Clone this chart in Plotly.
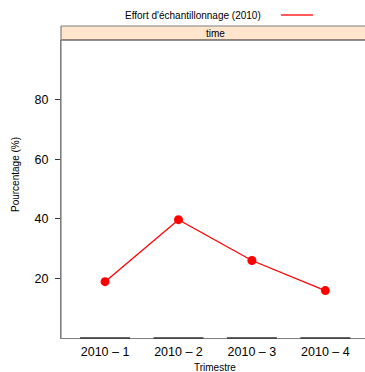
import plotly.graph_objects as go

categories = ["2010 – 1", "2010 – 2", "2010 – 3", "2010 – 4"]
values = [18.9, 39.7, 26.0, 15.9]
y_ticks = [20, 40, 60, 80]
series_name = "Effort d'échantillonnage (2010)"
strip_label = "time"

W, H = 365, 372
L, R, T, B = 61, 0, 40, 34
ph = H - T - B
pw = W - L - R

def px_x(px):
    return (px - L) / pw

def px_y(py):
    return (H - B - py) / ph

FONT = "Liberation Sans, Arial, Helvetica, sans-serif"
xpos = list(range(len(categories)))

fig = go.Figure()
fig.add_trace(go.Scatter(
    x=xpos, y=values, mode="lines+markers",
    line=dict(color="#FF0000", width=1.3),
    marker=dict(color="#FF0000", size=9),
    showlegend=False, cliponaxis=False,
))

shapes = []
# strip
shapes.append(dict(type="rect", xref="paper", yref="paper",
                   x0=0, x1=1.02, y0=1, y1=px_y(26),
                   fillcolor="#FFE5CC", line=dict(width=0), layer="below"))
shapes.append(dict(type="line", xref="paper", yref="paper",
                   x0=0, x1=1.02, y0=px_y(26), y1=px_y(26),
                   line=dict(color="#7f7f7f", width=1.2)))
shapes.append(dict(type="line", xref="paper", yref="paper",
                   x0=0, x1=1.02, y0=1, y1=1,
                   line=dict(color="#222222", width=1.2)))
shapes.append(dict(type="line", xref="paper", yref="paper",
                   x0=0, x1=0, y0=0, y1=px_y(26),
                   line=dict(color="#7f7f7f", width=1.2)))
# bottom axis darker segments under categories
for i in xpos:
    shapes.append(dict(type="line", xref="x", yref="paper",
                       x0=i - 0.34, x1=i + 0.34, y0=0, y1=0,
                       line=dict(color="#333333", width=1.3)))
# legend line
shapes.append(dict(type="line", xref="paper", yref="paper",
                   x0=px_x(281), x1=px_x(313), y0=px_y(15), y1=px_y(15),
                   line=dict(color="#FF0000", width=1.3)))

annotations = [
    dict(text=strip_label, xref="paper", yref="paper", x=px_x(215), y=px_y(33),
         showarrow=False, font=dict(size=10, color="#000000", family=FONT),
         xanchor="center", yanchor="middle"),
    dict(text=series_name, xref="paper", yref="paper", x=px_x(193), y=px_y(15),
         showarrow=False, font=dict(size=10, color="#000000", family=FONT),
         xanchor="center", yanchor="middle"),
    dict(text="Pourcentage (%)", xref="paper", yref="paper", x=px_x(15), y=px_y(175),
         showarrow=False, textangle=-90, font=dict(size=10, color="#000000", family=FONT),
         xanchor="center", yanchor="middle"),
    dict(text="Trimestre", xref="paper", yref="paper", x=px_x(215), y=px_y(367),
         showarrow=False, font=dict(size=10, color="#000000", family=FONT),
         xanchor="center", yanchor="middle"),
]

fig.update_layout(
    width=W, height=H,
    margin=dict(l=L, r=R, t=T, b=B, pad=0),
    paper_bgcolor="white", plot_bgcolor="white",
    shapes=shapes, annotations=annotations,
    font=dict(family=FONT, size=12, color="#000000"),
    xaxis=dict(range=[-0.6, 3.54], tickmode="array", tickvals=xpos, ticktext=categories,
               showgrid=False, zeroline=False, showline=True, linecolor="#7f7f7f",
               linewidth=1.2, ticks="", tickfont=dict(size=12.5), ticklabelstandoff=2),
    yaxis=dict(range=[0, 100], tickmode="array", tickvals=y_ticks,
               showgrid=False, zeroline=False, showline=True, linecolor="#7f7f7f",
               linewidth=1.2, ticks="outside", ticklen=5, tickcolor="#333333",
               tickfont=dict(size=12.5), ticklabelstandoff=4),
)

fig.write_html("out.html", config={"displayModeBar": False},
               post_script="document.body.style.margin='0px';document.body.style.overflow='hidden';")
